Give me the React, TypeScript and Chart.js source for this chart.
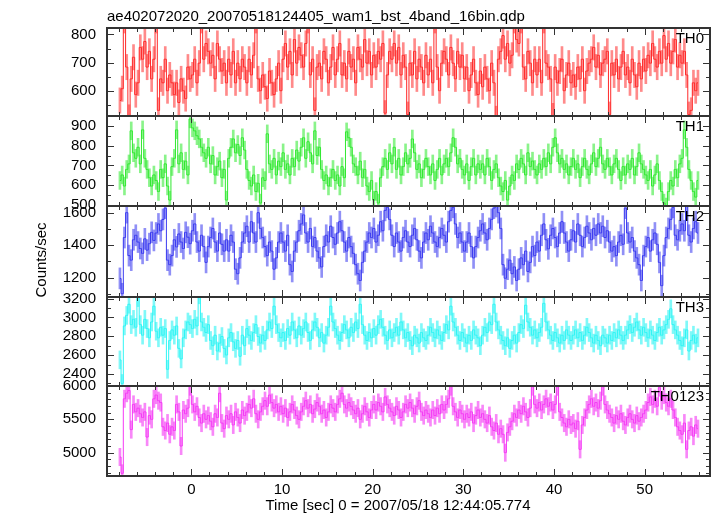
import React, { useEffect, useRef } from "react";
import { Chart, registerables } from "chart.js";

Chart.register(...registerables);

// ---------- text ----------
const TITLE = "ae402072020_20070518124405_wam1_bst_4band_16bin.qdp";
const X_LABEL = "Time [sec] 0 = 2007/05/18 12:44:05.774";
const Y_LABEL = "Counts/sec";
const PANEL_NAMES = ["TH0", "TH1", "TH2", "TH3", "TH0123"];

// ---------- time bins ----------
const BIN_START = -7.875; // centre of first bin (s)
const BIN_WIDTH = 0.25; // s
const X_MIN = -9.3;
const X_MAX = 57.2;
const X_MINOR_STEP = 2;
const X_MAJOR_STEP = 10;

// ---------- count rates (counts/sec), one value per 0.25 s bin ----------
const th0Rates = [
  565, 607, 850, 684, 505, 642, 719, 586, 628, 754, 712, 775, 684, 740, 642, 712,
  850, 530, 642, 628, 712, 600, 656, 628, 586, 628, 558, 642, 600, 572, 684, 642,
  656, 712, 628, 698, 850, 712, 768, 740, 698, 726, 642, 768, 712, 670, 698, 628,
  712, 656, 740, 628, 698, 642, 712, 684, 628, 712, 656, 726, 850, 642, 600, 656,
  614, 572, 670, 628, 586, 642, 698, 600, 712, 768, 684, 740, 656, 782, 698, 754,
  726, 684, 768, 850, 656, 712, 530, 684, 698, 642, 740, 712, 628, 684, 754, 656,
  712, 768, 656, 698, 642, 740, 684, 712, 628, 754, 712, 684, 782, 698, 740, 656,
  726, 684, 740, 712, 768, 520, 656, 740, 712, 768, 698, 754, 656, 726, 684, 515,
  698, 656, 740, 642, 712, 684, 628, 726, 656, 712, 628, 850, 684, 600, 698, 740,
  712, 656, 754, 698, 642, 740, 684, 726, 642, 684, 600, 656, 712, 628, 586, 670,
  614, 684, 642, 600, 698, 628, 500, 712, 740, 796, 712, 768, 698, 726, 850, 782,
  768, 850, 684, 642, 740, 698, 628, 712, 656, 712, 628, 850, 698, 684, 642, 510,
  684, 628, 670, 712, 600, 656, 698, 628, 656, 614, 684, 642, 712, 600, 670, 698,
  712, 754, 684, 726, 656, 698, 712, 740, 515, 698, 656, 712, 642, 684, 740, 656,
  684, 628, 712, 656, 614, 698, 642, 712, 670, 726, 698, 768, 712, 684, 740, 698,
  796, 712, 768, 698, 740, 782, 684, 726, 698, 740, 656, 515, 530, 628, 600, 628,
];

const th1Rates = [
  624, 652, 596, 680, 708, 875, 764, 736, 792, 708, 880, 736, 680, 638, 596, 652,
  624, 568, 680, 638, 708, 596, 525, 694, 736, 880, 708, 764, 680, 722, 652, 935,
  890, 875, 850, 834, 792, 764, 736, 792, 708, 750, 652, 694, 722, 638, 680, 525,
  736, 792, 834, 764, 806, 750, 840, 778, 680, 624, 596, 652, 568, 610, 510, 638,
  624, 860, 708, 680, 736, 652, 722, 694, 764, 680, 708, 652, 736, 694, 778, 722,
  792, 840, 736, 820, 764, 708, 875, 750, 792, 680, 624, 652, 596, 638, 680, 624,
  652, 596, 694, 638, 870, 840, 792, 708, 694, 652, 722, 638, 680, 596, 568, 624,
  525, 568, 510, 638, 694, 736, 680, 764, 708, 792, 680, 736, 652, 694, 764, 708,
  736, 834, 764, 680, 708, 638, 680, 736, 694, 652, 708, 624, 680, 736, 652, 708,
  736, 694, 764, 840, 792, 708, 736, 680, 652, 708, 624, 694, 736, 652, 708, 680,
  708, 652, 736, 694, 624, 680, 708, 638, 596, 568, 624, 525, 596, 652, 624, 708,
  680, 736, 708, 652, 764, 694, 722, 680, 652, 708, 680, 736, 694, 764, 708, 792,
  840, 764, 708, 736, 680, 708, 652, 694, 736, 680, 708, 638, 694, 736, 680, 652,
  708, 764, 694, 736, 792, 708, 680, 736, 694, 652, 708, 736, 680, 624, 694, 652,
  708, 680, 736, 652, 694, 764, 708, 680, 652, 624, 680, 596, 652, 708, 624, 568,
  510, 490, 568, 624, 596, 680, 638, 708, 736, 880, 792, 680, 624, 568, 540, 624,
];

const th2Rates = [
  1195, 1100, 1448, 1602, 1336, 1308, 1434, 1462, 1420, 1380, 1350, 1440, 1370, 1410, 1480, 1430,
  1476, 1532, 1490, 1560, 1630, 1308, 1280, 1336, 1434, 1390, 1470, 1420, 1380, 1480, 1450, 1410,
  1490, 1532, 1420, 1364, 1462, 1392, 1294, 1392, 1448, 1504, 1420, 1364, 1476, 1406, 1364, 1434,
  1364, 1462, 1420, 1252, 1224, 1322, 1420, 1476, 1518, 1420, 1546, 1476, 1420, 1602, 1504, 1448,
  1392, 1336, 1420, 1364, 1252, 1322, 1420, 1476, 1420, 1364, 1462, 1280, 1238, 1364, 1420, 1490,
  1532, 1588, 1476, 1420, 1504, 1392, 1448, 1364, 1322, 1266, 1392, 1462, 1420, 1518, 1448, 1406,
  1476, 1546, 1490, 1420, 1364, 1448, 1392, 1350, 1280, 1224, 1182, 1294, 1364, 1420, 1476, 1448,
  1504, 1420, 1462, 1546, 1490, 1616, 1635, 1560, 1462, 1392, 1476, 1420, 1364, 1448, 1490, 1420,
  1392, 1462, 1504, 1434, 1364, 1322, 1420, 1476, 1434, 1518, 1476, 1420, 1392, 1448, 1504, 1462,
  1420, 1546, 1616, 1635, 1532, 1448, 1476, 1420, 1364, 1420, 1476, 1392, 1322, 1392, 1448, 1490,
  1532, 1476, 1434, 1504, 1560, 1630, 1640, 1602, 1504, 1280, 1196, 1252, 1308, 1224, 1266, 1182,
  1252, 1322, 1280, 1364, 1238, 1294, 1392, 1336, 1420, 1364, 1462, 1532, 1434, 1378, 1462, 1504,
  1448, 1392, 1476, 1546, 1476, 1420, 1364, 1434, 1490, 1420, 1532, 1462, 1392, 1448, 1518, 1476,
  1434, 1504, 1462, 1532, 1476, 1518, 1448, 1490, 1420, 1364, 1392, 1336, 1420, 1462, 1406, 1630,
  1476, 1420, 1448, 1364, 1322, 1280, 1182, 1336, 1392, 1448, 1364, 1434, 1476, 1406, 1294, 1150,
  1336, 1448, 1504, 1560, 1635, 1462, 1434, 1490, 1532, 1490, 1660, 1462, 1420, 1504, 1546, 1476,
];

const th3Rates = [
  2550, 2300, 2910, 3022, 3140, 2924, 2980, 2896, 3210, 2924, 2812, 2980, 2882, 2784, 2952, 3120,
  2854, 2784, 2896, 2812, 2882, 2450, 2756, 2868, 2812, 2910, 2672, 2560, 2784, 2868, 2952, 2924,
  2882, 2980, 2910, 3240, 2952, 2896, 2840, 2924, 2756, 2700, 2812, 2644, 2728, 2798, 2672, 2602,
  2784, 2840, 2742, 2672, 2756, 2588, 2812, 2700, 2882, 2812, 2756, 2840, 2924, 2798, 2728, 2812,
  2756, 2868, 2952, 2882, 3120, 2924, 2840, 2784, 2840, 2756, 2882, 2812, 2952, 2868, 2784, 2910,
  2812, 2882, 2952, 2840, 2756, 2868, 2952, 2896, 2784, 2840, 2728, 2812, 2896, 3120, 2952, 2882,
  2812, 2756, 2840, 2924, 2868, 2784, 2896, 2840, 2952, 2882, 3140, 2924, 2812, 2756, 2840, 2784,
  2882, 2812, 2924, 2980, 2896, 2812, 2756, 2868, 2784, 2840, 2896, 2812, 2952, 2868, 2784, 2840,
  2756, 2700, 2812, 2784, 2728, 2840, 2784, 2756, 2812, 2896, 2840, 2784, 2868, 2812, 2756, 2840,
  2924, 2868, 3120, 2952, 2896, 2812, 2756, 2840, 2784, 2728, 2812, 2756, 2868, 2812, 2784, 2700,
  2812, 2896, 2840, 2952, 2924, 3140, 2952, 2868, 2812, 2756, 2700, 2784, 2672, 2756, 2812, 2728,
  2840, 2924, 2882, 3130, 2952, 2896, 2812, 2868, 2784, 2840, 2896, 3150, 2952, 2868, 2812, 2756,
  2840, 2784, 2728, 2812, 2756, 2868, 2812, 2756, 2812, 2868, 2784, 2840, 2756, 2812, 2896, 2840,
  2784, 2728, 2812, 2756, 2700, 2812, 2784, 2728, 2812, 2756, 2840, 2784, 2868, 2812, 2756, 2812,
  2868, 2924, 2840, 2896, 2952, 2868, 2812, 2896, 2840, 2784, 2868, 2812, 2756, 2840, 2896, 2812,
  2868, 2924, 2980, 3092, 2924, 2868, 2812, 2756, 2700, 2784, 2868, 2644, 2756, 2812, 2728, 2784,
];

const th0123Rates = [
  4935, 4690, 5808, 5892, 5934, 5346, 5724, 5612, 5668, 5584, 5528, 5612, 5234, 5556, 5500, 5808,
  5864, 5780, 5752, 5388, 5332, 5444, 5276, 5388, 5332, 5724, 5612, 5100, 5640, 5584, 5668, 5990,
  5724, 5612, 5696, 5528, 5444, 5584, 5500, 5556, 5472, 5388, 5584, 5528, 5892, 5444, 5360, 5556,
  5500, 5584, 5416, 5612, 5528, 5444, 5640, 5556, 5612, 5724, 5668, 5808, 5584, 5500, 5612, 5696,
  5780, 5696, 5864, 5752, 5668, 5724, 5612, 5696, 5584, 5668, 5528, 5612, 5724, 5640, 5556, 5500,
  5612, 5696, 5780, 5668, 5724, 5584, 5654, 5752, 5696, 5584, 5640, 5528, 5612, 5724, 5668, 5612,
  5724, 5808, 5892, 5724, 5668, 5752, 5696, 5640, 5584, 5668, 5500, 5584, 5696, 5612, 5528, 5640,
  5724, 5640, 5752, 5696, 5612, 5836, 5724, 5668, 5612, 5556, 5696, 5640, 5528, 5612, 5724, 5668,
  5752, 5668, 5584, 5696, 5780, 5612, 5556, 5640, 5584, 5528, 5640, 5556, 5668, 5584, 5724, 5640,
  5724, 5808, 5990, 5696, 5612, 5528, 5640, 5584, 5500, 5584, 5528, 5612, 5444, 5556, 5640, 5528,
  5584, 5500, 5444, 5556, 5388, 5332, 5444, 5276, 5360, 5276, 5000, 5304, 5388, 5472, 5584, 5528,
  5640, 5584, 5696, 5612, 5528, 5668, 5990, 5724, 5668, 5752, 5640, 5724, 5808, 5696, 5752, 5640,
  5724, 5990, 5612, 5528, 5444, 5388, 5500, 5416, 5444, 5360, 5472, 5050, 5416, 5528, 5640, 5724,
  5808, 5696, 5752, 5668, 5780, 5990, 5724, 5640, 5584, 5528, 5444, 5556, 5500, 5584, 5472, 5416,
  5528, 5584, 5500, 5444, 5556, 5472, 5528, 5584, 5640, 5752, 5836, 5724, 5808, 5696, 5976, 5780,
  5864, 5752, 5696, 5808, 5640, 5528, 5388, 5332, 5276, 5444, 5050, 5332, 5388, 5248, 5416, 5360,
];

const SERIES = [th0Rates, th1Rates, th2Rates, th3Rates, th0123Rates];
const ERR_HALF = [45, 45, 65, 95, 130]; // typical 1-sigma error per bin, counts/sec

// ---------- axes ----------
const Y_MINS = [510, 495, 1080, 2273, 4650];
const Y_MAXS = [823, 950, 1643, 3217, 6000];
const Y_MINOR_STEPS = [50, 50, 100, 100, 100];
const Y_MAJOR_STEPS = [100, 100, 200, 200, 500];

// ---------- styles / layout ----------
const LINE_COLORS = ["#ff2a2a", "#30e830", "#3a3af0", "#30f5f5", "#f53af5"];
const BAR_COLORS = [
  "rgba(255,60,60,0.6)",
  "rgba(60,235,60,0.6)",
  "rgba(70,70,240,0.6)",
  "rgba(60,245,245,0.65)",
  "rgba(245,70,245,0.65)",
];
const W = 717;
const H = 516;
const PANEL_EDGES = [28, 116, 206, 297, 386, 476];
const PLOT_LEFT = 107;
const PLOT_RIGHT = 710;
const MARGIN = 14;
const FONT = "'Liberation Sans', Arial, Helvetica, sans-serif";

const isMultiple = (v: number, step: number) => {
  const r = Math.abs(v / step - Math.round(v / step));
  return r < 1e-6;
};

const framePlugin = {
  id: "qdpFrame",
  afterDraw(chart: any, _args: any, opts: any) {
    const { ctx, chartArea: a, scales } = chart;
    const xs = scales.x;
    const ys = scales.y;
    ctx.save();
    ctx.strokeStyle = "#333";
    ctx.lineWidth = 1;
    ctx.beginPath();
    xs.ticks.forEach((t: any) => {
      const px = Math.round(xs.getPixelForValue(t.value)) + 0.5;
      const len = isMultiple(t.value, opts.xMajor) ? 7 : 4;
      ctx.moveTo(px, a.top);
      ctx.lineTo(px, a.top + len);
      ctx.moveTo(px, a.bottom);
      ctx.lineTo(px, a.bottom - len);
    });
    ys.ticks.forEach((t: any) => {
      const py = Math.round(ys.getPixelForValue(t.value)) + 0.5;
      const len = isMultiple(t.value, opts.yMajor) ? 7 : 4;
      ctx.moveTo(a.left, py);
      ctx.lineTo(a.left + len, py);
      ctx.moveTo(a.right, py);
      ctx.lineTo(a.right - len, py);
    });
    ctx.stroke();
    ctx.lineWidth = 2;
    ctx.strokeRect(a.left, a.top, a.right - a.left, a.bottom - a.top);
    ctx.restore();
  },
};

function Panel({ idx }: { idx: number }) {
  const ref = useRef<HTMLCanvasElement>(null);
  const isLast = idx === SERIES.length - 1;
  const top = PANEL_EDGES[idx] - MARGIN;
  const height = isLast ? H - top : PANEL_EDGES[idx + 1] - PANEL_EDGES[idx] + 2 * MARGIN;

  useEffect(() => {
    const vals = SERIES[idx];
    const err = ERR_HALF[idx];
    const times = vals.map((_, i) => BIN_START + i * BIN_WIDTH);
    const yMajor = Y_MAJOR_STEPS[idx];
    const chart = new Chart(ref.current as HTMLCanvasElement, {
      type: "line",
      data: {
        datasets: [
          {
            type: "bar",
            data: vals.map((v, i) => ({ x: times[i], y: [v - err, v + err] })),
            backgroundColor: BAR_COLORS[idx],
            borderWidth: 0,
            barThickness: 2,
            order: 2,
          } as any,
          {
            type: "line",
            data: vals.map((v, i) => ({ x: times[i], y: v })),
            borderColor: LINE_COLORS[idx],
            borderWidth: 1,
            stepped: "middle",
            pointRadius: 0,
            fill: false,
            order: 1,
          } as any,
        ],
      },
      options: {
        animation: false,
        responsive: false,
        devicePixelRatio: 1,
        layout: {
          padding: { left: 0, right: W - PLOT_RIGHT, top: MARGIN, bottom: isLast ? 0 : MARGIN },
        },
        plugins: {
          legend: { display: false },
          tooltip: { enabled: false },
          qdpFrame: { xMajor: X_MAJOR_STEP, yMajor },
        } as any,
        scales: {
          x: {
            type: "linear",
            min: X_MIN,
            max: X_MAX,
            offset: false,
            grid: { display: false, drawTicks: false },
            border: { display: false },
            ticks: {
              display: isLast,
              stepSize: X_MINOR_STEP,
              includeBounds: false,
              autoSkip: false,
              maxRotation: 0,
              padding: 5,
              color: "#000",
              font: { family: FONT, size: 15 },
              callback: (v: any) => (isMultiple(Number(v), X_MAJOR_STEP) ? String(Math.round(Number(v))) : ""),
            },
            afterFit: (s: any) => {
              s.height = isLast ? H - PANEL_EDGES[5] : 0;
              s.paddingLeft = 0;
              s.paddingRight = 0;
            },
          },
          y: {
            type: "linear",
            min: Y_MINS[idx],
            max: Y_MAXS[idx],
            beginAtZero: false,
            grid: { display: false, drawTicks: false },
            border: { display: false },
            ticks: {
              stepSize: Y_MINOR_STEPS[idx],
              includeBounds: false,
              autoSkip: false,
              padding: 11,
              color: "#000",
              font: { family: FONT, size: 15 },
              callback: (v: any) => (isMultiple(Number(v), yMajor) ? String(Math.round(Number(v))) : ""),
            },
            afterFit: (s: any) => {
              s.width = PLOT_LEFT;
              s.paddingTop = 0;
              s.paddingBottom = 0;
            },
          },
        },
      } as any,
      plugins: [framePlugin],
    });
    return () => chart.destroy();
  }, [idx]);

  return (
    <canvas
      ref={ref}
      width={W}
      height={height}
      style={{ position: "absolute", left: 0, top, width: W, height }}
    />
  );
}

export default function App() {
  const textBase: React.CSSProperties = {
    position: "absolute",
    fontFamily: FONT,
    fontSize: 15,
    lineHeight: "16px",
    color: "#000",
    whiteSpace: "nowrap",
  };
  return (
    <div
      style={{
        position: "fixed",
        left: 0,
        top: 0,
        width: W,
        height: H,
        background: "#fff",
        overflow: "hidden",
      }}
    >
      {SERIES.map((_, i) => (
        <Panel key={i} idx={i} />
      ))}
      <div style={{ ...textBase, left: 107, top: 8 }}>{TITLE}</div>
      {PANEL_NAMES.map((n, i) => (
        <div key={n} style={{ ...textBase, right: W - 704, top: PANEL_EDGES[i] + 2 }}>
          {n}
        </div>
      ))}
      <div
        style={{
          ...textBase,
          left: -9,
          top: 252,
          width: 100,
          height: 16,
          textAlign: "center",
          transform: "rotate(-90deg)",
        }}
      >
        {Y_LABEL}
      </div>
      <div style={{ ...textBase, left: 198, top: 497, width: 400, textAlign: "center" }}>{X_LABEL}</div>
    </div>
  );
}
